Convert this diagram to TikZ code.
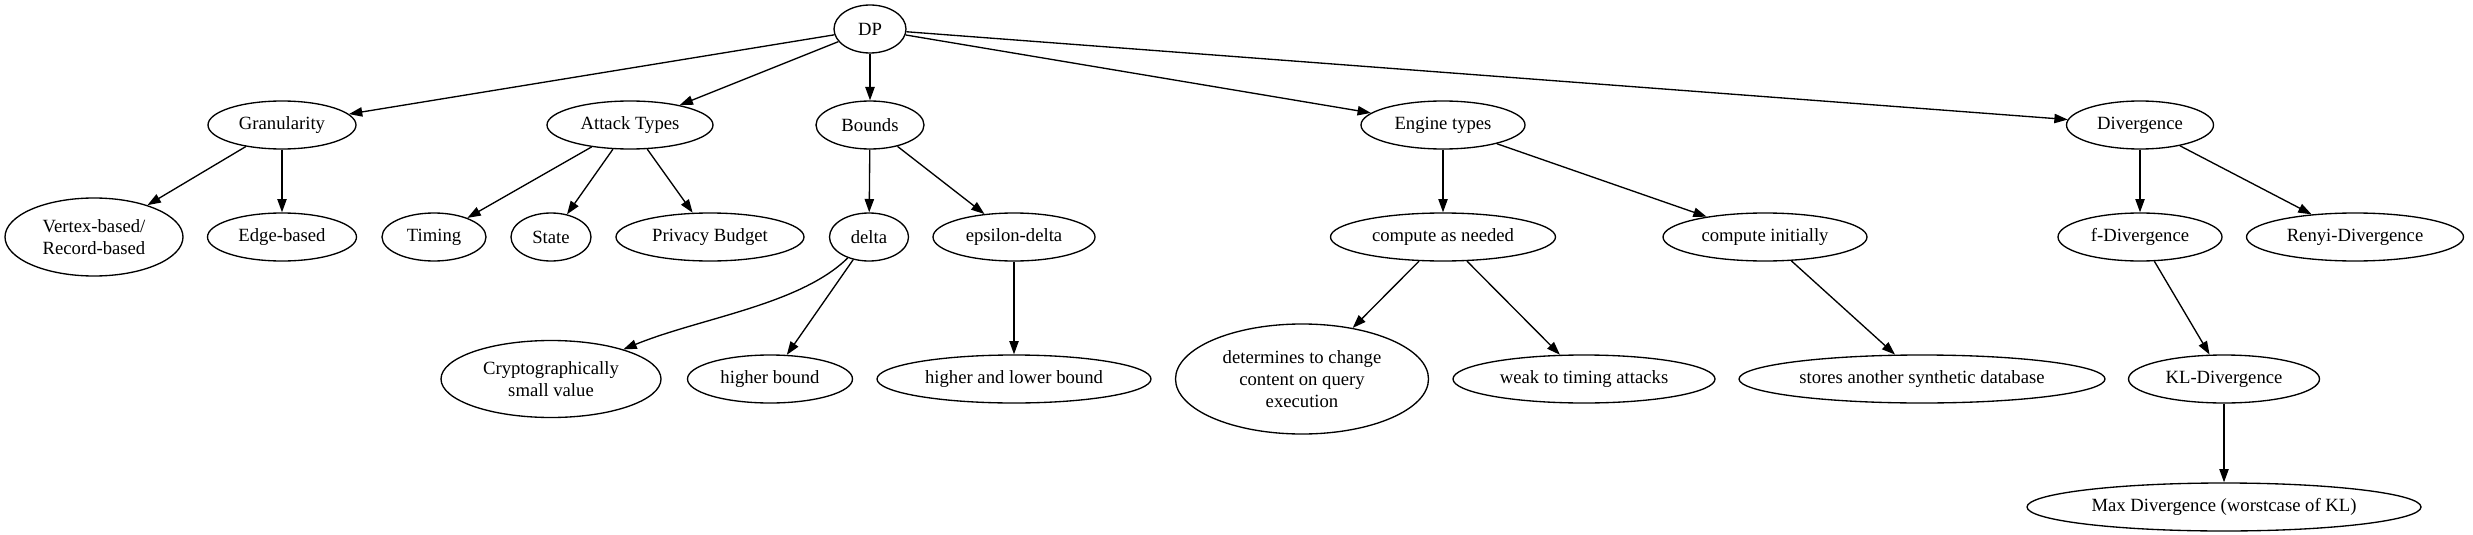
\documentclass[tikz,border=0pt]{standalone}
\usepackage{fontspec}
\setmainfont{Liberation Serif}
\usetikzlibrary{shapes.geometric,arrows.meta}
\begin{document}
\begin{tikzpicture}[x=0.75pt,y=-0.75pt,
  nd/.style={ellipse, draw, line width=1pt, inner sep=0pt, align=center,
             font=\fontsize{14}{16.5}\selectfont},
  wh/.style 2 args={minimum width=#1*0.75pt, minimum height=#2*0.75pt},
  edge/.style={-{Triangle[length=10pt,width=7pt]}, line width=1pt}]
\useasboundingbox (0,0) rectangle (2473,535);
% rank 0
\node[nd, wh={72}{48}] (dp) at (870,29) {DP};
% rank 1
\node[nd, wh={148}{48}] (gran) at (282,125) {Granularity};
\node[nd, wh={166}{48}] (atk) at (630,125) {Attack Types};
\node[nd, wh={108}{48}] (bnd) at (870,125) {Bounds};
\node[nd, wh={164}{48}] (eng) at (1443,125) {Engine types};
\node[nd, wh={147}{48}] (div) at (2140,125) {Divergence};
% rank 2
\node[nd, wh={178}{78}] (vtx) at (94,237) {Vertex-based/\\Record-based};
\node[nd, wh={149}{48}] (edg) at (282,237) {Edge-based};
\node[nd, wh={104}{48}] (tim) at (434,237) {Timing};
\node[nd, wh={80}{48}] (sta) at (551,237) {State};
\node[nd, wh={188}{48}] (prv) at (710,237) {Privacy Budget};
\node[nd, wh={79}{48}] (dlt) at (869,237) {delta};
\node[nd, wh={162}{48}] (eps) at (1014,237) {epsilon-delta};
\node[nd, wh={225}{48}] (can) at (1443,237) {compute as needed};
\node[nd, wh={204}{48}] (cin) at (1765,237) {compute initially};
\node[nd, wh={164}{48}] (fdv) at (2140,237) {f-Divergence};
\node[nd, wh={217}{48}] (rdv) at (2355,237) {Renyi-Divergence};
% rank 3
\node[nd, wh={220}{77}] (cry) at (551,379) {Cryptographically\\small value};
\node[nd, wh={165}{48}] (hbd) at (770,379) {higher bound};
\node[nd, wh={274}{48}] (hlb) at (1014,379) {higher and lower bound};
\node[nd, wh={253}{110}] (det) at (1302,379) {determines to change\\content on query\\execution};
\node[nd, wh={262}{48}] (wtk) at (1584,379) {weak to timing attacks};
\node[nd, wh={366}{48}] (sto) at (1922,379) {stores another synthetic database};
\node[nd, wh={191}{48}] (kl) at (2224,379) {KL-Divergence};
% rank 4
\node[nd, wh={394}{48}] (max) at (2224,507) {Max Divergence (worstcase of KL)};
% edges
\draw[edge] (dp) -- (gran);
\draw[edge] (dp) -- (atk);
\draw[edge] (dp) -- (bnd);
\draw[edge] (dp) -- (eng);
\draw[edge] (dp) -- (div);
\draw[edge] (gran) -- (vtx);
\draw[edge] (gran) -- (edg);
\draw[edge] (atk) -- (tim);
\draw[edge] (atk) -- (sta);
\draw[edge] (atk) -- (prv);
\draw[edge] (bnd) -- (dlt);
\draw[edge] (bnd) -- (eps);
\draw[edge] (dlt) .. controls (800,305) and (700,318) .. (cry);
\draw[edge] (dlt) -- (hbd);
\draw[edge] (eps) -- (hlb);
\draw[edge] (eng) -- (can);
\draw[edge] (eng) -- (cin);
\draw[edge] (can) -- (det);
\draw[edge] (can) -- (wtk);
\draw[edge] (cin) -- (sto);
\draw[edge] (div) -- (fdv);
\draw[edge] (div) -- (rdv);
\draw[edge] (fdv) -- (kl);
\draw[edge] (kl) -- (max);
\end{tikzpicture}
\end{document}
